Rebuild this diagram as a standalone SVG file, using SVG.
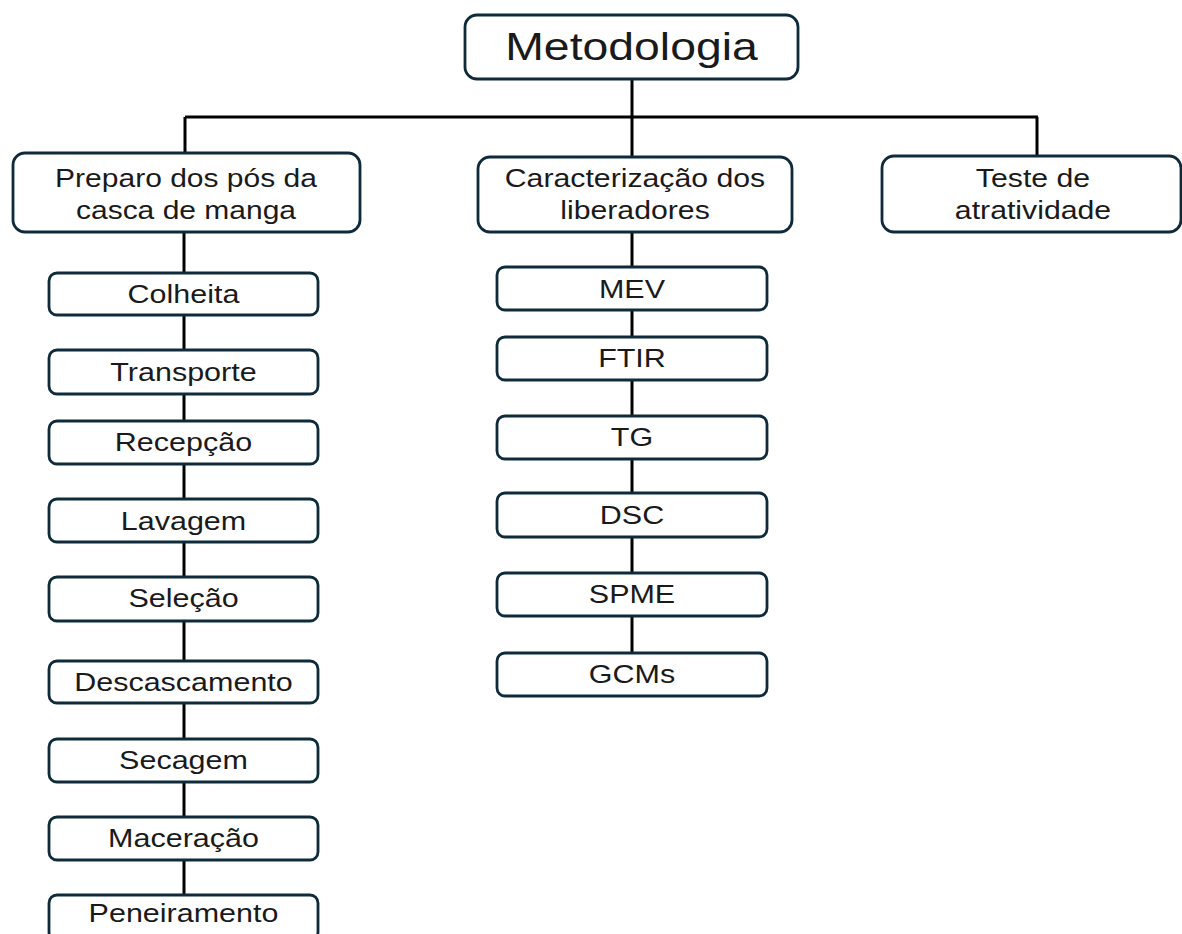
<svg xmlns="http://www.w3.org/2000/svg" width="1182" height="934" viewBox="0 0 1182 934">
<style>
.box{fill:#fff;stroke:#0f2a3a;stroke-width:2.8}
.t{font-family:"Liberation Sans",Arial,sans-serif;font-size:25px;fill:#1a1a1a;text-anchor:middle}
.tt{font-family:"Liberation Sans",Arial,sans-serif;font-size:38px;fill:#1a1a1a;text-anchor:middle}
.c{stroke:#000;stroke-width:3;fill:none}
</style>
<rect width="1182" height="934" fill="#fff"/>
<g id="connectors">
<path class="c" d="M632 79V157M185 117H1038M185 117V153M1037 117V156"/>
<path class="c" d="M184 232V895"/>
<path class="c" d="M632 232V653"/>
</g>
<g id="metodologia"><rect class="box" x="465" y="15" width="333" height="64" rx="12"/><text class="tt" transform="translate(631.5,60) scale(1.22,1)">Metodologia</text></g>
<g id="preparo"><rect class="box" x="13" y="153" width="347" height="79" rx="12"/><text class="t" transform="translate(186,187) scale(1.2,1)">Preparo dos pós da</text><text class="t" transform="translate(186,219) scale(1.2,1)">casca de manga</text></g>
<g id="caracterizacao"><rect class="box" x="478" y="157" width="314" height="75" rx="12"/><text class="t" transform="translate(635,187) scale(1.21,1)">Caracterização dos</text><text class="t" transform="translate(635,219) scale(1.21,1)">liberadores</text></g>
<g id="teste"><rect class="box" x="882" y="156" width="299" height="76" rx="12"/><text class="t" transform="translate(1033,187) scale(1.21,1)">Teste de</text><text class="t" transform="translate(1033,219) scale(1.21,1)">atratividade</text></g>
<g id="colheita"><rect class="box" x="49" y="273" width="269" height="42" rx="8"/><text class="t" transform="translate(183.5,303) scale(1.22,1)">Colheita</text></g>
<g id="transporte"><rect class="box" x="49" y="350" width="269" height="44" rx="8"/><text class="t" transform="translate(183.5,380.5) scale(1.22,1)">Transporte</text></g>
<g id="recepcao"><rect class="box" x="49" y="421" width="269" height="43" rx="8"/><text class="t" transform="translate(183.5,451) scale(1.22,1)">Recepção</text></g>
<g id="lavagem"><rect class="box" x="49" y="499" width="269" height="43" rx="8"/><text class="t" transform="translate(183.5,529.5) scale(1.22,1)">Lavagem</text></g>
<g id="selecao"><rect class="box" x="49" y="577" width="269" height="44" rx="8"/><text class="t" transform="translate(183.5,607) scale(1.22,1)">Seleção</text></g>
<g id="descascamento"><rect class="box" x="49" y="661" width="269" height="42" rx="8"/><text class="t" transform="translate(183.5,690.5) scale(1.22,1)">Descascamento</text></g>
<g id="secagem"><rect class="box" x="49" y="739" width="269" height="43" rx="8"/><text class="t" transform="translate(183.5,768.5) scale(1.22,1)">Secagem</text></g>
<g id="maceracao"><rect class="box" x="49" y="817" width="269" height="43" rx="8"/><text class="t" transform="translate(183.5,847) scale(1.22,1)">Maceração</text></g>
<g id="peneiramento"><rect class="box" x="49" y="895" width="269" height="45" rx="8"/><text class="t" transform="translate(183.5,922) scale(1.22,1)">Peneiramento</text></g>
<g id="mev"><rect class="box" x="497" y="267" width="270" height="43" rx="8"/><text class="t" transform="translate(632,297.5) scale(1.22,1)">MEV</text></g>
<g id="ftir"><rect class="box" x="497" y="337" width="270" height="43" rx="8"/><text class="t" transform="translate(632,367) scale(1.22,1)">FTIR</text></g>
<g id="tg"><rect class="box" x="497" y="416" width="270" height="43" rx="8"/><text class="t" transform="translate(632,446) scale(1.22,1)">TG</text></g>
<g id="dsc"><rect class="box" x="497" y="493" width="270" height="44" rx="8"/><text class="t" transform="translate(632,523.5) scale(1.22,1)">DSC</text></g>
<g id="spme"><rect class="box" x="497" y="573" width="270" height="43" rx="8"/><text class="t" transform="translate(632,603) scale(1.22,1)">SPME</text></g>
<g id="gcms"><rect class="box" x="497" y="653" width="270" height="43" rx="8"/><text class="t" transform="translate(632,683) scale(1.22,1)">GCMs</text></g>
</svg>
